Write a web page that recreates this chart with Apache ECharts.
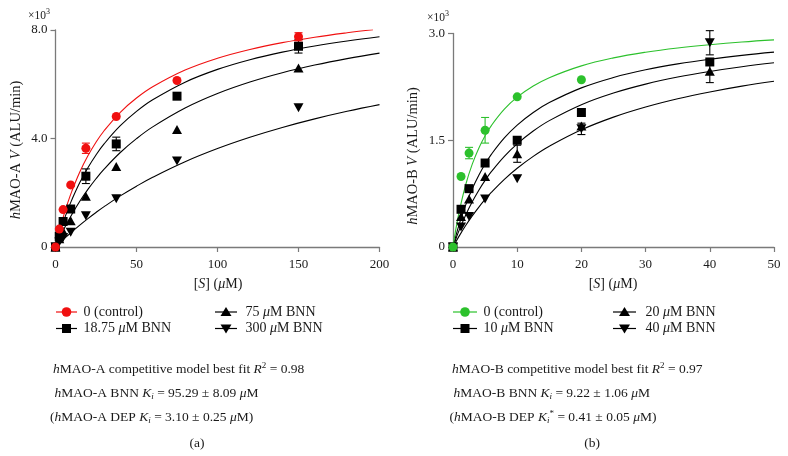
<!DOCTYPE html>
<html><head><meta charset="utf-8">
<script src="https://cdn.jsdelivr.net/npm/echarts@6/dist/echarts.min.js"></script>
<style>html,body{margin:0;padding:0;background:#fff}#c{width:788px;height:456px}</style>
</head><body><div id="c"></div>
<script>
// ---------- Panel (a): hMAO-A (values in ×10^3 ALU/min) ----------
const xA = [0, 2.34, 4.69, 9.38, 18.75, 37.5, 75, 150];
const ctrlA = [0, 0.66, 1.38, 2.29, 3.64, 4.81, 6.14, 7.75];
const bnn1875A = [0, 0.39, 0.94, 1.40, 2.61, 3.80, 5.56, 7.40];
const bnn75A = [0, 0.30, 0.58, 0.97, 1.87, 2.97, 4.33, 6.60];
const bnn300A = [0, 0.18, 0.35, 0.54, 1.15, 1.78, 3.17, 5.13];
const errCtrlA = [0, 0, 0, 0, 0.19, 0, 0, 0.15];
const err1875A = [0, 0, 0, 0, 0.27, 0.25, 0, 0.25];
// best-fit curves
const fitXA = [0, 1, 2.34, 5, 7.5, 10, 15, 20, 25, 30, 40, 50, 60, 80, 100, 120, 140, 160, 180, 200];
const fitXCtrlA = [0, 1, 2.34, 5, 7.5, 10, 15, 20, 25, 30, 40, 50, 60, 80, 100, 120, 140, 160, 180, 196];
const fitCtrlA = [0, 0.253, 0.572, 1.145, 1.619, 2.043, 2.767, 3.363, 3.862, 4.286, 4.967, 5.491, 5.907, 6.524, 6.960, 7.284, 7.535, 7.735, 7.898, 8.009];
const fit1875A = [0, 0.207, 0.470, 0.951, 1.358, 1.729, 2.376, 2.924, 3.394, 3.801, 4.471, 5.000, 5.428, 6.078, 6.549, 6.906, 7.185, 7.410, 7.595, 7.750];
const fit75A = [0, 0.134, 0.308, 0.635, 0.922, 1.192, 1.684, 2.123, 2.516, 2.870, 3.483, 3.995, 4.429, 5.125, 5.659, 6.082, 6.424, 6.707, 6.945, 7.148];
const fit300A = [0, 0.058, 0.136, 0.285, 0.421, 0.553, 0.807, 1.046, 1.272, 1.487, 1.884, 2.243, 2.571, 3.144, 3.629, 4.045, 4.407, 4.723, 5.002, 5.250];
const yTickValsA = [0, 4, 8];
const yTickLabelsA = ['0', '4.0', '8.0'];

// ---------- Panel (b): hMAO-B ----------
const xB = [0, 1.25, 2.5, 5, 10, 20, 40];
const ctrlB = [0, 0.99, 1.32, 1.64, 2.11, 2.35, null];
const bnn10B = [0, 0.53, 0.82, 1.18, 1.50, 1.89, 2.60];
const bnn20B = [0, 0.43, 0.675, 0.99, 1.31, 1.70, 2.47];
const bnn40B = [0, 0.28, 0.43, 0.675, 0.96, 1.66, 2.87];
const errCtrlB = [0, 0, 0.08, 0.18, 0, 0, 0];
const err20B = [0, 0, 0, 0, 0.12, 0, 0.16];
const err40B = [0, 0, 0, 0, 0, 0.08, 0.17];
const fitXB = [0, 0.5, 1, 2, 3, 4, 5, 6, 8, 10, 12.5, 15, 20, 25, 30, 35, 40, 45, 50];
const fitCtrlB = [0, 0.278, 0.511, 0.882, 1.164, 1.385, 1.563, 1.710, 1.937, 2.105, 2.261, 2.379, 2.545, 2.657, 2.737, 2.797, 2.843, 2.881, 2.911];
const fit10B = [0, 0.173, 0.329, 0.596, 0.819, 1.006, 1.167, 1.305, 1.533, 1.713, 1.890, 2.029, 2.236, 2.382, 2.490, 2.573, 2.639, 2.693, 2.738];
const fit20B = [0, 0.127, 0.244, 0.454, 0.636, 0.795, 0.936, 1.062, 1.275, 1.450, 1.630, 1.776, 2.000, 2.164, 2.289, 2.388, 2.467, 2.533, 2.588];
const fit40B = [0, 0.082, 0.160, 0.305, 0.437, 0.558, 0.668, 0.770, 0.951, 1.107, 1.274, 1.416, 1.647, 1.825, 1.967, 2.083, 2.179, 2.261, 2.330];
const yTickValsB = [0, 1.5, 3];
const yTickLabelsB = ['0', '1.5', '3.0'];

const legendA = ['0 (control)', '18.75 {it|μ}M BNN', '75 {it|μ}M BNN', '300 {it|μ}M BNN'];
const legendB = ['0 (control)', '10 {it|μ}M BNN', '20 {it|μ}M BNN', '40 {it|μ}M BNN'];
const notesA = ['{it|h}MAO-A competitive model best fit {it|R}{sup|2} = 0.98',
  '{it|h}MAO-A BNN {it|K}{subi|i} = 95.29 ± 8.09 {it|μ}M',
  '({it|h}MAO-A DEP {it|K}{subi|i} = 3.10 ± 0.25 {it|μ}M)'];
const notesB = ['{it|h}MAO-B competitive model best fit {it|R}{sup|2} = 0.97',
  '{it|h}MAO-B BNN {it|K}{subi|i} = 9.22 ± 1.06 {it|μ}M',
  '({it|h}MAO-B DEP {it|K}{subi|i}{sup|*} = 0.41 ± 0.05 {it|μ}M)'];

const RED = '#f01010', GREEN = '#2cc12c', BLACK = '#000';
const FONT = 'Liberation Serif';
const TXT = '#1a1a1a';
const AX = '#7a7a7a';

const zip = (xs, ys) => xs.map((x, i) => [x, ys[i]]).filter(p => p[1] != null);

function scatter(name, xs, ys, symbol, color, gi, z, rot) {
  return { name, type: 'scatter', xAxisIndex: gi, yAxisIndex: gi, data: zip(xs, ys),
    symbol, symbolSize: symbol === 'triangle' ? [10, 9] : 9, symbolRotate: rot || 0,
    itemStyle: { color, opacity: 1 }, z, silent: true };
}
function fit(xs, ys, color, gi) {
  return { type: 'line', xAxisIndex: gi, yAxisIndex: gi, data: zip(xs, ys), showSymbol: false,
    smooth: 0.4, lineStyle: { color, width: 1.1 }, z: 2, silent: true };
}
function errs(xs, ys, es, color, gi, z) {
  const data = [];
  xs.forEach((x, i) => { if (es[i] > 0 && ys[i] != null) data.push([x, ys[i] - es[i], ys[i] + es[i]]); });
  return { type: 'custom', xAxisIndex: gi, yAxisIndex: gi, z, silent: true, data,
    encode: { x: 0, y: [1, 2] },
    renderItem: (params, api) => {
      const lo = api.coord([api.value(0), api.value(1)]);
      const hi = api.coord([api.value(0), api.value(2)]);
      const w = 4;
      const st = { stroke: color, lineWidth: 1.1 };
      return { type: 'group', children: [
        { type: 'line', shape: { x1: lo[0], y1: lo[1], x2: hi[0], y2: hi[1] }, style: st },
        { type: 'line', shape: { x1: lo[0] - w, y1: lo[1], x2: lo[0] + w, y2: lo[1] }, style: st },
        { type: 'line', shape: { x1: hi[0] - w, y1: hi[1], x2: hi[0] + w, y2: hi[1] }, style: st }
      ] };
    } };
}

function makeRich(size) {
  return {
    it: { fontStyle: 'italic', fontFamily: FONT, fontSize: size, lineHeight: 16, fill: TXT },
    sup: { fontFamily: FONT, fontSize: Math.round(size * 0.7), verticalAlign: 'top', lineHeight: 10, fill: TXT },
    subi: { fontFamily: FONT, fontStyle: 'italic', fontSize: Math.round(size * 0.7), verticalAlign: 'bottom', lineHeight: 6, fill: TXT }
  };
}
function txt(x, y, text, size, align, rot) {
  return { type: 'text', x, y, rotation: rot || 0, silent: true,
    style: { text, fontFamily: FONT, fontSize: size, lineHeight: 16, fill: TXT,
      align: align || 'left', verticalAlign: 'middle', textAlign: align || 'left', textVerticalAlign: 'middle',
      rich: makeRich(size) } };
}
function legendItem(x1, x2, y, shape, color) {
  const cx = (x1 + x2) / 2;
  const els = [{ type: 'line', shape: { x1, y1: y, x2, y2: y }, style: { stroke: color, lineWidth: 1.2 }, silent: true }];
  if (shape === 'circle') els.push({ type: 'circle', shape: { cx, cy: y, r: 4.8 }, style: { fill: color }, silent: true });
  if (shape === 'rect') els.push({ type: 'rect', shape: { x: cx - 4.5, y: y - 4.5, width: 9, height: 9 }, style: { fill: color }, silent: true });
  if (shape === 'up') els.push({ type: 'polygon', shape: { points: [[cx - 5.5, y + 4], [cx + 5.5, y + 4], [cx, y - 5]] }, style: { fill: color }, silent: true });
  if (shape === 'down') els.push({ type: 'polygon', shape: { points: [[cx - 5.5, y - 4], [cx + 5.5, y - 4], [cx, y + 5]] }, style: { fill: color }, silent: true });
  return els;
}

function xAx(gi, max, interval) {
  return { gridIndex: gi, type: 'value', min: 0, max, interval,
    axisLine: { show: true, onZero: false, lineStyle: { color: AX, width: 1.3 } },
    axisTick: { show: true, length: 5, inside: false, lineStyle: { color: AX, width: 1.2 } },
    axisLabel: { color: TXT, fontSize: 13, fontFamily: FONT, margin: 11 },
    splitLine: { show: false } };
}
function yAx(gi, max, interval, vals, labels) {
  return { gridIndex: gi, type: 'value', min: 0, max, interval,
    axisLine: { show: true, onZero: false, lineStyle: { color: AX, width: 1.3 } },
    axisTick: { show: true, length: 5, inside: false, lineStyle: { color: AX, width: 1.2 } },
    axisLabel: { color: TXT, fontSize: 13, fontFamily: FONT, margin: 8,
      formatter: v => { const i = vals.findIndex(t => Math.abs(t - v) < 1e-6); return i >= 0 ? labels[i] : ''; } },
    splitLine: { show: false } };
}

const graphics = [];
graphics.push(txt(28, 16, '×10{sup|3}', 11.5, 'left'));
graphics.push(txt(427, 18, '×10{sup|3}', 11.5, 'left'));
graphics.push(txt(16, 150, '{it|h}MAO-A {it|V} (ALU/min)', 14.5, 'center', Math.PI / 2));
graphics.push(txt(413, 156, '{it|h}MAO-B {it|V} (ALU/min)', 14.5, 'center', Math.PI / 2));
graphics.push(txt(218, 284, '[{it|S}] ({it|μ}M)', 14, 'center'));
graphics.push(txt(613, 284, '[{it|S}] ({it|μ}M)', 14, 'center'));
const r1 = 312, r2 = 328.5;
graphics.push(...legendItem(56, 77, r1, 'circle', RED), txt(83.5, r1, legendA[0], 14));
graphics.push(...legendItem(56, 77, r2, 'rect', BLACK), txt(83.5, r2, legendA[1], 14));
graphics.push(...legendItem(215, 237, r1, 'up', BLACK), txt(245.5, r1, legendA[2], 14));
graphics.push(...legendItem(215, 237, r2, 'down', BLACK), txt(245.5, r2, legendA[3], 14));
graphics.push(...legendItem(453, 477, r1, 'circle', GREEN), txt(483.5, r1, legendB[0], 14));
graphics.push(...legendItem(453, 477, r2, 'rect', BLACK), txt(483.5, r2, legendB[1], 14));
graphics.push(...legendItem(613, 636, r1, 'up', BLACK), txt(645.5, r1, legendB[2], 14));
graphics.push(...legendItem(613, 636, r2, 'down', BLACK), txt(645.5, r2, legendB[3], 14));
graphics.push(txt(53, 369.5, notesA[0], 13.5), txt(54.5, 393.5, notesA[1], 13.5), txt(50, 417.5, notesA[2], 13.5));
graphics.push(txt(452, 369.5, notesB[0], 13.5), txt(453.5, 393.5, notesB[1], 13.5), txt(449.5, 417.5, notesB[2], 13.5));
graphics.push(txt(197, 443, '(a)', 13.5, 'center'), txt(592, 443, '(b)', 13.5, 'center'));

const option = {
  backgroundColor: '#fff',
  animation: false,
  grid: [
    { left: 55.5, top: 30, width: 324, height: 217 },
    { left: 453, top: 33.5, width: 321, height: 213.5 }
  ],
  xAxis: [xAx(0, 200, 50), xAx(1, 50, 10)],
  yAxis: [yAx(0, 8, 4, yTickValsA, yTickLabelsA), yAx(1, 3, 1.5, yTickValsB, yTickLabelsB)],
  series: [
    fit(fitXA, fit1875A, BLACK, 0), fit(fitXA, fit75A, BLACK, 0), fit(fitXA, fit300A, BLACK, 0),
    fit(fitXCtrlA, fitCtrlA, RED, 0),
    errs(xA, bnn1875A, err1875A, BLACK, 0, 3), errs(xA, ctrlA, errCtrlA, RED, 0, 3),
    scatter('300 µM BNN', xA, bnn300A, 'triangle', BLACK, 0, 4, 180),
    scatter('75 µM BNN', xA, bnn75A, 'triangle', BLACK, 0, 5),
    scatter('18.75 µM BNN', xA, bnn1875A, 'rect', BLACK, 0, 6),
    scatter('0 (control) A', xA, ctrlA, 'circle', RED, 0, 7),

    fit(fitXB, fit10B, BLACK, 1), fit(fitXB, fit20B, BLACK, 1), fit(fitXB, fit40B, BLACK, 1),
    fit(fitXB, fitCtrlB, GREEN, 1),
    errs(xB, bnn20B, err20B, BLACK, 1, 3), errs(xB, bnn40B, err40B, BLACK, 1, 3), errs(xB, ctrlB, errCtrlB, GREEN, 1, 3),
    scatter('40 µM BNN', xB, bnn40B, 'triangle', BLACK, 1, 4, 180),
    scatter('20 µM BNN', xB, bnn20B, 'triangle', BLACK, 1, 5),
    scatter('10 µM BNN', xB, bnn10B, 'rect', BLACK, 1, 6),
    scatter('0 (control) B', xB, ctrlB, 'circle', GREEN, 1, 7)
  ],
  graphic: { elements: graphics }
};
const chart = echarts.init(document.getElementById('c'), null, { renderer: 'canvas' });
chart.setOption(option);
</script>
</body></html>
